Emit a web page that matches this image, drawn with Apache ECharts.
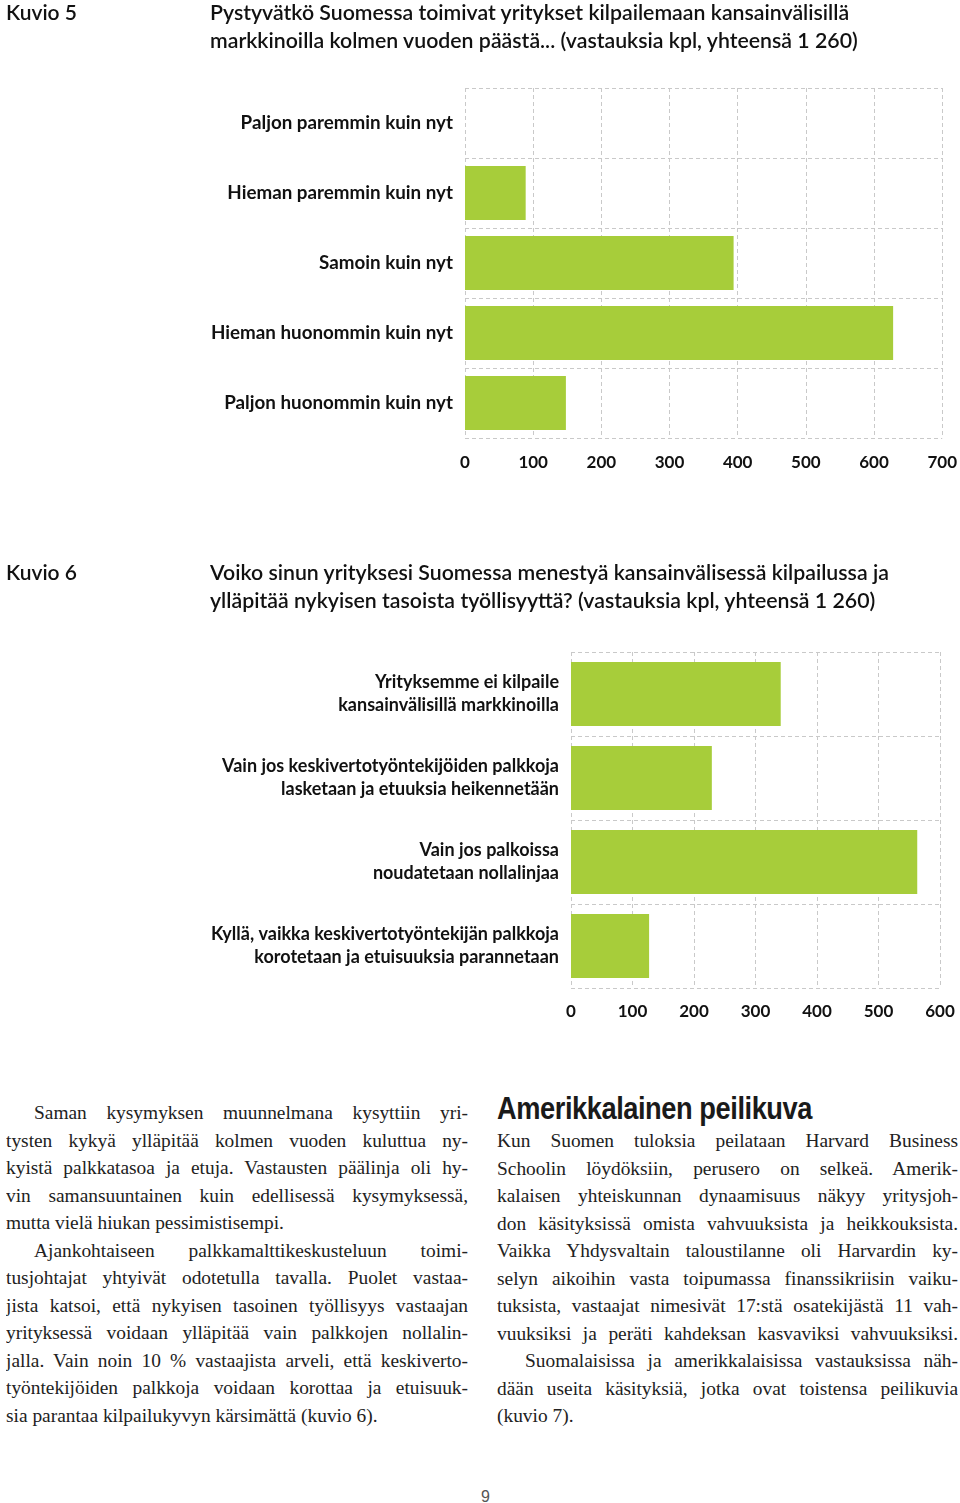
<!DOCTYPE html>
<html><head><meta charset="utf-8">
<script src="https://cdn.jsdelivr.net/npm/echarts@6/dist/echarts.min.js"></script>
<style>
html,body{margin:0;padding:0;background:#fff;}
body{width:960px;height:1503px;position:relative;overflow:hidden;}
#chart{position:absolute;left:0;top:0;width:960px;height:1060px;}
.kuvio{position:absolute;left:6px;font-family:Lato,'Open Sans',sans-serif;font-size:21px;line-height:28px;color:#111;font-weight:600;}
.title{position:absolute;left:210px;width:750px;white-space:nowrap;font-family:Lato,'Open Sans',sans-serif;font-size:21.3px;line-height:28px;color:#111;font-weight:600;}
.col{position:absolute;font-family:'Liberation Serif','DejaVu Serif',serif;font-size:19.4px;color:#222;}
.col div{height:27.55px;line-height:27.55px;text-align:justify;text-align-last:justify;overflow:hidden;white-space:normal;}
.col div.last{text-align-last:left;}
.col div.ind{padding-left:28px;}
#heading{position:absolute;left:497px;top:1092px;font-family:'Liberation Sans',Arial,sans-serif;font-weight:bold;font-size:31px;line-height:34px;color:#1a1a1a;white-space:nowrap;transform-origin:0 0;letter-spacing:-0.5px;}
#pnum{position:absolute;left:481px;top:1488px;font-family:'Liberation Sans',sans-serif;font-size:16px;color:#555;}
</style></head>
<body>
<div id="chart"></div>
<div class="kuvio" style="top:-2px">Kuvio 5</div>
<div class="title" style="top:-2px">Pystyvätkö Suomessa toimivat yritykset kilpailemaan kansainvälisillä<br>markkinoilla kolmen vuoden päästä... (vastauksia kpl, yhteensä 1 260)</div>
<div class="kuvio" style="top:558px">Kuvio 6</div>
<div class="title" style="top:558px">Voiko sinun yrityksesi Suomessa menestyä kansainvälisessä kilpailussa ja<br>ylläpitää nykyisen tasoista työllisyyttä? (vastauksia kpl, yhteensä 1 260)</div>

<div class="col" style="left:6px;top:1099px;width:462px">
<div class="ind">Saman kysymyksen muunnelmana kysyttiin yri-</div>
<div>tysten kykyä ylläpitää kolmen vuoden kuluttua ny-</div>
<div>kyistä palkkatasoa ja etuja. Vastausten päälinja oli hy-</div>
<div>vin samansuuntainen kuin edellisessä kysymyksessä,</div>
<div class="last">mutta vielä hiukan pessimistisempi.</div>
<div class="ind">Ajankohtaiseen palkkamalttikeskusteluun toimi-</div>
<div>tusjohtajat yhtyivät odotetulla tavalla. Puolet vastaa-</div>
<div>jista katsoi, että nykyisen tasoinen työllisyys vastaajan</div>
<div>yrityksessä voidaan ylläpitää vain palkkojen nollalin-</div>
<div>jalla. Vain noin 10 % vastaajista arveli, että keskiverto-</div>
<div>työntekijöiden palkkoja voidaan korottaa ja etuisuuk-</div>
<div class="last">sia parantaa kilpailukyvyn kärsimättä (kuvio 6).</div>
</div>

<div id="heading">Amerikkalainen peilikuva</div>
<div class="col" style="left:497px;top:1127px;width:461px">
<div>Kun Suomen tuloksia peilataan Harvard Business</div>
<div>Schoolin löydöksiin, perusero on selkeä. Amerik-</div>
<div>kalaisen yhteiskunnan dynaamisuus näkyy yritysjoh-</div>
<div>don käsityksissä omista vahvuuksista ja heikkouksista.</div>
<div>Vaikka Yhdysvaltain taloustilanne oli Harvardin ky-</div>
<div>selyn aikoihin vasta toipumassa finanssikriisin vaiku-</div>
<div>tuksista, vastaajat nimesivät 17:stä osatekijästä 11 vah-</div>
<div>vuuksiksi ja peräti kahdeksan kasvaviksi vahvuuksiksi.</div>
<div class="ind">Suomalaisissa ja amerikkalaisissa vastauksissa näh-</div>
<div>dään useita käsityksiä, jotka ovat toistensa peilikuvia</div>
<div class="last">(kuvio 7).</div>
</div>
<div id="pnum">9</div>

<script>
// ---- Data ----
const categories1 = ['Paljon paremmin kuin nyt', 'Hieman paremmin kuin nyt', 'Samoin kuin nyt', 'Hieman huonommin kuin nyt', 'Paljon huonommin kuin nyt'];
const values1 = [0, 89, 394, 628, 148];
const axisMax1 = 700;
const tickStep1 = 100;

const categories2 = [
  'Yrityksemme ei kilpaile\nkansainvälisillä markkinoilla',
  'Vain jos keskivertotyöntekijöiden palkkoja\nlasketaan ja etuuksia heikennetään',
  'Vain jos palkoissa\nnoudatetaan nollalinjaa',
  'Kyllä, vaikka keskivertotyöntekijän palkkoja\nkorotetaan ja etuisuuksia parannetaan'
];
const values2 = [341, 229, 563, 127];
const axisMax2 = 600;
const tickStep2 = 100;

// ---- Styles ----
const GREEN = '#a7cd3a';
const GRIDC = '#c9c9c9';
const dash = {type: [4, 3], color: GRIDC, width: 1};
const FONT = 'Lato, "Open Sans", sans-serif';

function xAx(gi, max, step, margin) {
  return {gridIndex: gi, type: 'value', min: 0, max: max, interval: step,
    axisLine: {show: false}, axisTick: {show: false},
    axisLabel: {margin: margin, fontFamily: FONT, fontWeight: 'bold', fontSize: 17, color: '#111'},
    splitLine: {show: true, lineStyle: dash}};
}
function yAx(gi, cats, lh, fs) {
  return {gridIndex: gi, type: 'category', data: cats, inverse: true,
    axisLine: {show: false}, axisTick: {show: false},
    axisLabel: {margin: 12, lineHeight: lh, align: 'right', fontFamily: FONT, fontWeight: 'bold', fontSize: fs, color: '#111'},
    splitLine: {show: true, lineStyle: dash}};
}

const chart = echarts.init(document.getElementById('chart'), null, {renderer: 'canvas'});
chart.setOption({
  animation: false,
  backgroundColor: '#fff',
  grid: [
    {left: 465, top: 88, width: 478, height: 350},
    {left: 571, top: 652, width: 369, height: 336}
  ],
  xAxis: [xAx(0, axisMax1, tickStep1, 16), xAx(1, axisMax2, tickStep2, 15)],
  yAxis: [yAx(0, categories1, 22, 18.8), yAx(1, categories2, 23, 18)],
  series: [
    {type: 'bar', xAxisIndex: 0, yAxisIndex: 0, data: values1, barCategoryGap: '23%', itemStyle: {color: GREEN}, silent: true},
    {type: 'bar', xAxisIndex: 1, yAxisIndex: 1, data: values2, barCategoryGap: '24%', itemStyle: {color: GREEN}, silent: true}
  ]
});

// fit heading to target width and make sure justified lines don't wrap
(function(){
  const h = document.getElementById('heading');
  const w = h.getBoundingClientRect().width;
  h.style.transform = 'scaleX(' + (315 / w) + ')';
  document.querySelectorAll('.col div').forEach(d => {
    let ls = 0;
    while (d.scrollHeight > 30 && ls > -3) { ls -= 0.1; d.style.letterSpacing = ls + 'px'; }
  });
})();
</script>
</body></html>
